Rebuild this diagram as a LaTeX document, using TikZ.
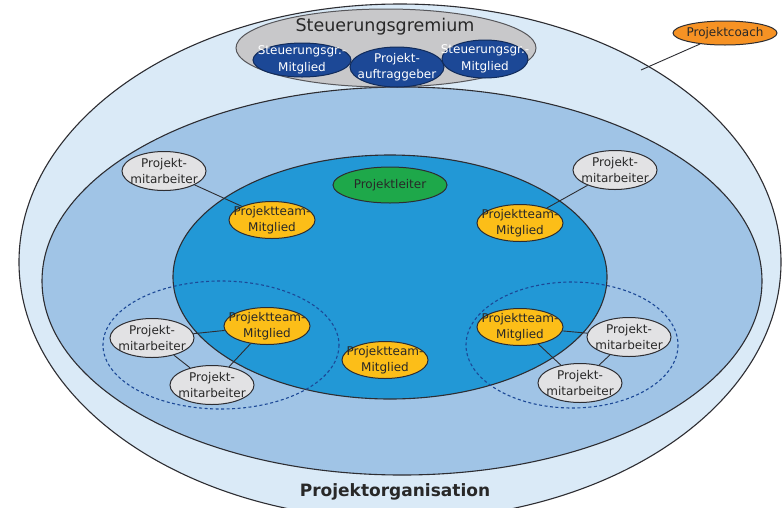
\documentclass[tikz,border=0pt]{standalone}
\usepackage{fontspec}
\setmainfont{DejaVu Sans}
\usetikzlibrary{shapes.geometric}
\definecolor{outerblue}{RGB}{218,234,247}
\definecolor{midblue}{RGB}{160,196,230}
\definecolor{innerblue}{RGB}{34,152,214}
\definecolor{gremgrey}{RGB}{200,200,202}
\definecolor{navy}{RGB}{28,72,150}
\definecolor{teamorange}{RGB}{252,190,24}
\definecolor{coachorange}{RGB}{246,146,36}
\definecolor{leadgreen}{RGB}{30,168,74}
\definecolor{mitgrey}{RGB}{226,226,228}
\definecolor{edge}{RGB}{45,45,50}
\definecolor{txt}{RGB}{40,40,40}
\tikzset{
  zone/.style={draw=edge, line width=1.1pt},
  bubble/.style={ellipse, draw=edge, line width=1pt, inner sep=0pt},
  team/.style={bubble, fill=teamorange, minimum width=86pt, minimum height=37pt},
  mit/.style={bubble, fill=mitgrey, minimum width=84pt, minimum height=39pt},
  blue/.style={bubble, fill=navy, draw=navy!60!black},
  btext/.style={align=center, inner sep=0pt, text=txt, font=\fontsize{12}{16.5}\selectfont},
  wtext/.style={btext, text=white},
  link/.style={draw=edge, line width=0.9pt},
  group/.style={draw=navy, line width=1.1pt, dash pattern=on 3pt off 2.5pt}
}
\begin{document}
\begin{tikzpicture}[x=1pt,y=-1pt]
\useasboundingbox (0,0) rectangle (784,507);
\fill[white] (0,0) rectangle (784,507);
\begin{scope}
\clip (0,0) rectangle (784,507);
\draw[zone, fill=outerblue] (400,262) ellipse [x radius=381, y radius=258];
\end{scope}
\draw[zone, fill=midblue] (402,281) ellipse [x radius=360, y radius=194];
\draw[zone, fill=innerblue] (390,277) ellipse [x radius=217, y radius=122];
\draw[group] (221,345) ellipse [x radius=118, y radius=64];
\draw[group] (572,345) ellipse [x radius=106, y radius=63];

% Steuerungsgremium
\node[bubble, fill=gremgrey, draw=edge!80, minimum width=300pt, minimum height=78pt] (grem) at (386,48) {};
\node[btext, font=\fontsize{17.5}{20}\selectfont] (gremt) at (385,27) {Steuerungsgremium};
\node[blue, minimum width=98pt, minimum height=34pt] (sg1) at (302,60) {};
\node[wtext] at (sg1.center) {Steuerungsgr.-\\Mitglied};
\node[blue, minimum width=94pt, minimum height=40pt] (pag) at (397,67) {};
\node[wtext] at (pag.center) {Projekt-\\auftraggeber};
\node[blue, minimum width=86pt, minimum height=38pt] (sg2) at (485,59) {};
\node[wtext] at (sg2.center) {Steuerungsgr.-\\Mitglied};

% Projektcoach
\node[bubble, fill=coachorange, minimum width=104pt, minimum height=24pt] (coach) at (725,33) {};
\node[btext] at (coach.center) {Projektcoach};
\coordinate (coachend) at (641,70);
\draw[link] (coach) -- (coachend);

% Projektleiter
\node[bubble, fill=leadgreen, minimum width=114pt, minimum height=36pt] (pl) at (390,185) {};
\node[btext] at (pl.center) {Projektleiter};

% Team members
\node[team] (t1) at (272,220) {};
\node[btext] at (t1.center) {Projektteam-\\Mitglied};
\node[team] (t2) at (520,223) {};
\node[btext] at (t2.center) {Projektteam-\\Mitglied};
\node[team] (t3) at (267,326) {};
\node[btext] at (t3.center) {Projektteam-\\Mitglied};
\node[team] (t4) at (520,327) {};
\node[btext] at (t4.center) {Projektteam-\\Mitglied};
\node[team] (t5) at (385,360) {};
\node[btext] at (t5.center) {Projektteam-\\Mitglied};

% Mitarbeiter
\node[mit] (m1) at (164,171) {};
\node[btext] at (m1.center) {Projekt-\\mitarbeiter};
\node[mit] (m2) at (615,170) {};
\node[btext] at (m2.center) {Projekt-\\mitarbeiter};
\node[mit] (m3) at (152,338) {};
\node[btext] at (m3.center) {Projekt-\\mitarbeiter};
\node[mit] (m4) at (212,385) {};
\node[btext] at (m4.center) {Projekt-\\mitarbeiter};
\node[mit] (m5) at (629,337) {};
\node[btext] at (m5.center) {Projekt-\\mitarbeiter};
\node[mit] (m6) at (580,383) {};
\node[btext] at (m6.center) {Projekt-\\mitarbeiter};

\draw[link] (m1) -- (t1);
\draw[link] (m2) -- (t2);
\draw[link] (m3) -- (t3);
\draw[link] (t3) -- (m4);
\draw[link] (m3) -- (m4);
\draw[link] (t4) -- (m5);
\draw[link] (t4) -- (m6);
\draw[link] (m5) -- (m6);

\node[btext, font=\bfseries\fontsize{17}{20}\selectfont] (org) at (395,492) {Projektorganisation};
\end{tikzpicture}
\end{document}
